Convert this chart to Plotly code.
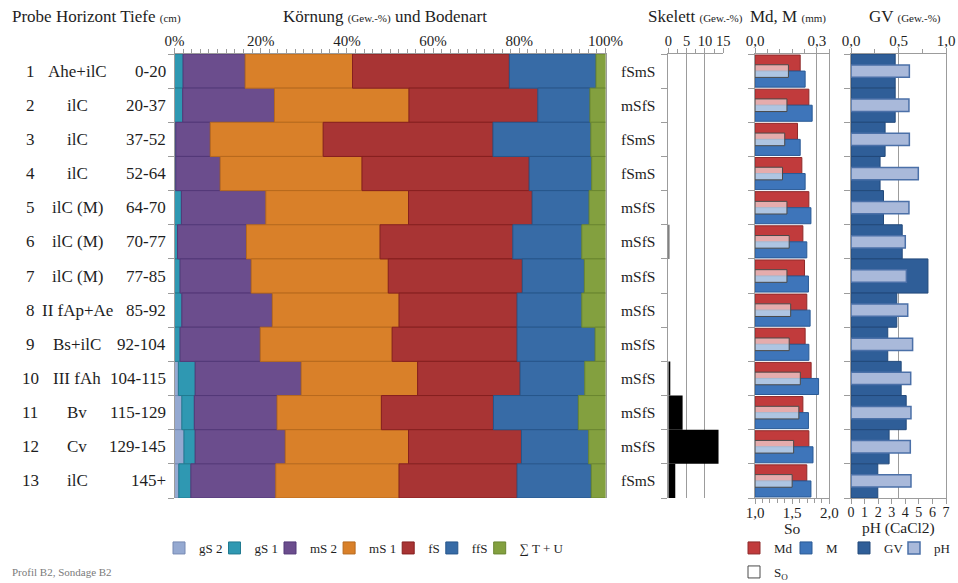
import numpy as np
import plotly.graph_objects as go

# ---------------- data ----------------
probe = ["1", "2", "3", "4", "5", "6", "7", "8", "9", "10", "11", "12", "13"]
horizont = ["Ahe+ilC", "ilC", "ilC", "ilC", "ilC (M)", "ilC (M)", "ilC (M)",
            "II fAp+Ae", "Bs+ilC", "III fAh", "Bv", "Cv", "ilC"]
tiefe = ["0-20", "20-37", "37-52", "52-64", "64-70", "70-77", "77-85",
         "85-92", "92-104", "104-115", "115-129", "129-145", "145+"]
bodenart = ["fSmS", "mSfS", "fSmS", "fSmS", "mSfS", "mSfS", "mSfS",
            "mSfS", "mSfS", "mSfS", "mSfS", "mSfS", "fSmS"]

# grain size fractions (Gew.-%)
gS2 = [0, 0, 0, 0, 0, 0, 0, 0, 0, 0.9, 1.7, 2.2, 1.0]
gS1 = [2.0, 1.9, 0.3, 0.3, 1.6, 0.7, 1.3, 1.7, 1.3, 3.9, 2.9, 2.6, 2.8]
mS2 = [14.4, 21.3, 8.0, 10.3, 19.6, 16.0, 16.5, 21.0, 18.6, 24.6, 19.2, 20.9, 19.7]
mS1 = [24.9, 31.2, 26.2, 32.9, 33.1, 31.0, 31.8, 29.4, 30.6, 27.0, 24.2, 28.6, 28.6]
fS = [36.4, 29.9, 39.4, 38.8, 28.7, 30.8, 31.1, 27.4, 29.0, 23.8, 26.0, 26.2, 27.4]
ffS = [20.1, 12.1, 22.7, 14.5, 13.2, 16.0, 14.4, 15.0, 18.1, 15.0, 19.7, 15.6, 17.2]
TU = [2.2, 3.6, 3.4, 3.2, 3.8, 5.5, 4.9, 5.5, 2.4, 4.8, 6.3, 3.9, 3.3]

skelett = [0, 0, 0, 0, 0, 0.15, 0, 0, 0, 0.3, 3.9, 13.7, 1.9]
md = [0.219, 0.261, 0.206, 0.227, 0.261, 0.232, 0.240, 0.251, 0.243, 0.272, 0.232, 0.261, 0.251]
m_ = [0.243, 0.277, 0.219, 0.243, 0.271, 0.251, 0.259, 0.267, 0.261, 0.308, 0.259, 0.281, 0.271]
so = [1.45, 1.43, 1.40, 1.37, 1.43, 1.46, 1.43, 1.48, 1.46, 1.61, 1.59, 1.52, 1.50]
gv = [0.465, 0.465, 0.359, 0.306, 0.342, 0.539, 0.81, 0.482, 0.387, 0.528, 0.581, 0.401, 0.282]
ph = [4.30, 4.27, 4.30, 4.96, 4.27, 4.00, 4.08, 4.18, 4.54, 4.40, 4.42, 4.37, 4.42]

top_pct_vals = [0, 20, 40, 60, 80, 100]
bot_pct_vals = [10, 30, 50, 70, 90]
skel_ticks = [0, 5, 10, 15]
md_ticks = [0, 0.3]
md_ticktext = ["0,0", "0,3"]
so_ticks = [1, 1.5, 2]
so_ticktext = ["1,0", "1,5", "2,0"]
gv_ticks = [0, 0.5, 1]
gv_ticktext = ["0,0", "0,5", "1,0"]
ph_ticks = [0, 1, 2, 3, 4, 5, 6, 7]

# ---------------- style ----------------
W, H = 958, 583
FONT = "Liberation Serif"
TXT = "#1e1e1e"
AX = "#9c9c9c"
LEG_FS = 13


def px(x):
    return x / W


def py(y):
    return 1 - y / H


n = len(probe)
rows = list(range(n))

fractions = [
    ("gS 2", gS2, "#95a9d1", "#7689b3", 23.5),
    ("gS 1", gS1, "#2f98b2", "#217a90", 23.5),
    ("mS 2", mS2, "#6b4d8d", "#533878", 27.1),
    ("mS 1", mS1, "#d98029", "#b7691d", 27.1),
    ("fS", fS, "#a83434", "#861f1f", 11.6),
    ("ffS", ffS, "#376ba6", "#27568b", 15.9),
    ("\u2211 T + U", TU, "#83a03f", "#6a8630", 43.5),
]

fig = go.Figure()
legends = {}
base = np.zeros(n)
LEG_Y = 548
sw = 179  # swatch centre of first legend entry (px)
for k, (name, vals, fill, line, tw) in enumerate(fractions):
    v = np.array(vals, dtype=float)
    lg = "legend" if k == 0 else f"legend{k + 1}"
    fig.add_trace(go.Bar(
        y=rows, x=v, base=base.copy(), orientation="h", width=1,
        marker=dict(color=fill, line=dict(color=line, width=1)),
        name=name, xaxis="x", yaxis="y", hoverinfo="skip", legend=lg))
    legends[lg] = (sw, LEG_Y)
    sw += tw + 32
    base += v

# Skelett
fig.add_trace(go.Bar(y=rows, x=skelett, orientation="h", width=1,
                     marker=dict(color="black", line=dict(width=0)),
                     xaxis="x3", yaxis="y2", showlegend=False, hoverinfo="skip"))

# Md, M
fig.add_trace(go.Bar(y=rows, x=md, orientation="h", width=0.47, offset=-0.47,
                     marker=dict(color="#c13b3c", line=dict(color="#8e2a2a", width=1)),
                     name="Md", xaxis="x4", yaxis="y3", hoverinfo="skip", legend="legend8"))
legends["legend8"] = (754, LEG_Y)
fig.add_trace(go.Bar(y=rows, x=m_, orientation="h", width=0.47, offset=0.0,
                     marker=dict(color="#3e75ba", line=dict(color="#2a5a95", width=1)),
                     name="M", xaxis="x4", yaxis="y3", hoverinfo="skip", legend="legend9"))
legends["legend9"] = (806, LEG_Y)
so_arr = np.array(so)
fig.add_trace(go.Bar(y=rows, x=so_arr - 1.0, base=1.0, orientation="h", width=0.37, offset=-0.185,
                     marker=dict(color="rgba(255,255,255,0.58)", line=dict(color="#4a4a4a", width=1)),
                     name="S<sub>O</sub>", xaxis="x5", yaxis="y3", hoverinfo="skip", legend="legend10"))
legends["legend10"] = (754, 572)

# GV, pH
fig.add_trace(go.Bar(y=rows, x=gv, orientation="h", width=1,
                     marker=dict(color="#2f5e98", line=dict(color="#22497a", width=1)),
                     name="GV", xaxis="x6", yaxis="y4", hoverinfo="skip", legend="legend11"))
legends["legend11"] = (864, LEG_Y)
fig.add_trace(go.Bar(y=rows, x=ph, orientation="h", width=0.36, offset=-0.18,
                     marker=dict(color="#a9b9da", line=dict(color="#4b70a8", width=1.5)),
                     name="pH", xaxis="x7", yaxis="y4", hoverinfo="skip", legend="legend12"))
legends["legend12"] = (914, LEG_Y)

# ---------------- axes ----------------
YD = [py(498), py(54)]


def yaxis(anchor, mirror):
    return dict(domain=YD, anchor=anchor, range=[n - 0.5, -0.5],
                tickvals=[k - 0.5 for k in range(n + 1)], ticks="outside", ticklen=6,
                tickcolor=AX, showticklabels=False, showline=True, linecolor=AX,
                mirror=mirror, showgrid=False, zeroline=False, fixedrange=True)


def xaxis(domain, anchor, side, rng, tickvals, ticktext=None, grid=False, minor=None,
          overlaying=None, size=15):
    d = dict(domain=domain, anchor=anchor, side=side, range=rng, tickmode="array",
             tickvals=tickvals, ticks="outside", ticklen=5, tickcolor=AX,
             showline=True, linecolor=AX, showgrid=grid, gridcolor=AX, gridwidth=1,
             zeroline=False, fixedrange=True, ticklabelstandoff=-4,
             tickfont=dict(family=FONT, size=size, color=TXT))
    if ticktext is not None:
        d["ticktext"] = ticktext
    if minor is not None:
        d["minor"] = dict(dtick=minor, tick0=rng[0], ticks="outside", ticklen=4,
                          tickcolor=AX, showgrid=False)
    if overlaying:
        d["overlaying"] = overlaying
    return d


D_main = [px(174.5), px(605.5)]
D_skel = [px(668.3), px(723.3)]
D_md = [px(755), px(829.3)]
D_gv = [px(851), px(946)]

fig.update_layout(
    width=W, height=H, autosize=False,
    margin=dict(l=0, r=0, t=0, b=0, pad=0, autoexpand=False),
    paper_bgcolor="white", plot_bgcolor="rgba(0,0,0,0)",
    barmode="overlay",
    font=dict(family=FONT, color=TXT),
    xaxis=xaxis(D_main, "y", "top", [0, 100], top_pct_vals,
                [f"{v}%" for v in top_pct_vals], minor=2),
    xaxis2=xaxis(D_main, "y", "bottom", [0, 100], bot_pct_vals,
                 [f"{v}%" for v in bot_pct_vals], minor=2, overlaying="x"),
    xaxis3=xaxis(D_skel, "y2", "top", [0, 15], skel_ticks, grid=True, minor=2.5, size=14.5),
    xaxis4=xaxis(D_md, "y3", "top", [0, 0.36], md_ticks, md_ticktext, grid=True, minor=0.06),
    xaxis5=xaxis(D_md, "y3", "bottom", [1, 2], so_ticks, so_ticktext, minor=0.1, overlaying="x4"),
    xaxis6=xaxis(D_gv, "y4", "top", [0, 1], gv_ticks, gv_ticktext, grid=True, minor=0.25),
    xaxis7=xaxis(D_gv, "y4", "bottom", [0, 7], ph_ticks, overlaying="x6", size=14),
    yaxis=yaxis("x", True),
    yaxis2=yaxis("x3", False),
    yaxis3=yaxis("x4", True),
    yaxis4=yaxis("x6", True),
)

for lg, (cx, cy) in legends.items():
    fig.update_layout(**{lg: dict(
        x=px(cx - 20), y=py(cy), xanchor="left", yanchor="middle", orientation="h",
        bgcolor="rgba(0,0,0,0)", borderwidth=0,
        font=dict(family=FONT, size=LEG_FS, color=TXT))})

# ---------------- text ----------------
ann = []
RF = dict(family=FONT, size=17, color=TXT)
for i in rows:
    ann.append(dict(x=px(30), y=i, xref="paper", yref="y", text=probe[i],
                    showarrow=False, xanchor="center", yanchor="middle", font=RF))
    ann.append(dict(x=px(77), y=i, xref="paper", yref="y", text=horizont[i],
                    showarrow=False, xanchor="center", yanchor="middle", font=RF))
    ann.append(dict(x=px(168), y=i, xref="paper", yref="y", text=tiefe[i],
                    showarrow=False, xanchor="right", yanchor="middle", font=RF))
    ann.append(dict(x=px(637.5), y=i, xref="paper", yref="y", text=bodenart[i],
                    showarrow=False, xanchor="center", yanchor="middle",
                    font=dict(family=FONT, size=15.5, color=TXT)))

HF = dict(family=FONT, size=17, color=TXT)
small = "<span style='font-size:11px'>{}</span>"
headers = [
    (10, "left", "Probe Horizont Tiefe " + small.format("(cm)")),
    (385, "center", "Körnung " + small.format("(Gew.-%)") + " und Bodenart"),
    (695, "center", "Skelett " + small.format("(Gew.-%)")),
    (788, "center", "Md, M " + small.format("(mm)")),
    (905, "center", "GV " + small.format("(Gew.-%)")),
]
for x, anchor, t in headers:
    ann.append(dict(x=px(x), y=py(17), xref="paper", yref="paper", text=t,
                    showarrow=False, xanchor=anchor, yanchor="middle", font=HF))

ann.append(dict(x=px(792), y=py(528), xref="paper", yref="paper", text="So",
                showarrow=False, xanchor="center", yanchor="middle",
                font=dict(family=FONT, size=15.5, color=TXT)))
ann.append(dict(x=px(898), y=py(528), xref="paper", yref="paper", text="pH (CaCl2)",
                showarrow=False, xanchor="center", yanchor="middle",
                font=dict(family=FONT, size=15.5, color=TXT)))
ann.append(dict(x=px(10), y=py(572), xref="paper", yref="paper", text="Profil B2, Sondage B2",
                showarrow=False, xanchor="left", yanchor="middle",
                font=dict(family=FONT, size=11, color="#7a7a7a")))

fig.update_layout(annotations=ann)
fig.write_html("out.html", config={"displayModeBar": False},
               post_script="document.body.style.margin='0px';")
